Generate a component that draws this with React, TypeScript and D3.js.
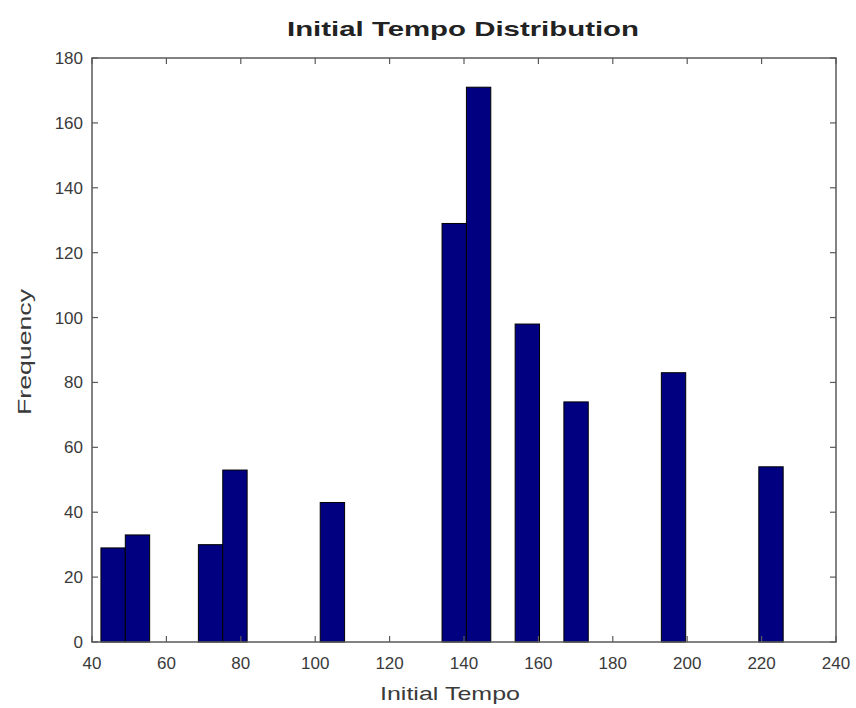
import React from "react";
import * as d3 from "d3";

const binStart = 42.4;
const binWidth = 6.55;
const binIndex = [0, 1, 4, 5, 9, 14, 15, 17, 19, 23, 27];
const counts = [29, 33, 30, 53, 43, 129, 171, 98, 74, 83, 54];
const xTicks = [40, 60, 80, 100, 120, 140, 160, 180, 200, 220, 240];
const yTicks = [0, 20, 40, 60, 80, 100, 120, 140, 160, 180];

const W = 856;
const H = 708;
const L = 92, R = 836, T = 58, B = 642;

export default function App() {
  const x = d3.scaleLinear().domain([40, 240]).range([L, R]);
  const y = d3.scaleLinear().domain([0, 180]).range([B, T]);
  const font = "Liberation Sans, Arial, sans-serif";
  const tickLen = 6;
  const axisColor = "#5a5a5a";
  const textColor = "#3a3a3a";
  return (
    <svg width={W} height={H} style={{ position: "absolute", left: 0, top: 0, background: "#fff" }}>
      <rect x={0} y={0} width={W} height={H} fill="#fff" />
      {binIndex.map((k, i) => {
        const x0 = binStart + k * binWidth;
        const x1 = x0 + binWidth;
        return (
          <rect
            key={i}
            x={x(x0)}
            y={y(counts[i])}
            width={x(x1) - x(x0)}
            height={y(0) - y(counts[i])}
            fill="#000080"
            stroke="#000"
            strokeWidth={1}
          />
        );
      })}
      <rect x={L} y={T} width={R - L} height={B - T} fill="none" stroke={axisColor} strokeWidth={1.5} />
      {xTicks.map((t) => (
        <g key={"x" + t}>
          <line x1={x(t)} x2={x(t)} y1={B} y2={B - tickLen} stroke={axisColor} strokeWidth={1.2} />
          <line x1={x(t)} x2={x(t)} y1={T} y2={T + tickLen} stroke={axisColor} strokeWidth={1.2} />
          <text x={x(t)} y={669} textAnchor="middle" fontFamily={font} fontSize={17} fill={textColor}>
            {t}
          </text>
        </g>
      ))}
      {yTicks.map((t) => (
        <g key={"y" + t}>
          <line x1={L} x2={L + tickLen} y1={y(t)} y2={y(t)} stroke={axisColor} strokeWidth={1.2} />
          <line x1={R} x2={R - tickLen} y1={y(t)} y2={y(t)} stroke={axisColor} strokeWidth={1.2} />
          <text x={83} y={y(t) + 6} textAnchor="end" fontFamily={font} fontSize={17} fill={textColor}>
            {t}
          </text>
        </g>
      ))}
      <text x={463} y={36} textAnchor="middle" fontFamily={font} fontSize={21} fontWeight="bold" fill="#222"
        textLength={352} lengthAdjust="spacingAndGlyphs">
        Initial Tempo Distribution
      </text>
      <text x={450} y={700} textAnchor="middle" fontFamily={font} fontSize={19} fill={textColor}
        textLength={140} lengthAdjust="spacingAndGlyphs">
        Initial Tempo
      </text>
      <text transform="translate(31,352) rotate(-90)" textAnchor="middle" fontFamily={font} fontSize={19}
        fill={textColor} textLength={126} lengthAdjust="spacingAndGlyphs">
        Frequency
      </text>
    </svg>
  );
}
